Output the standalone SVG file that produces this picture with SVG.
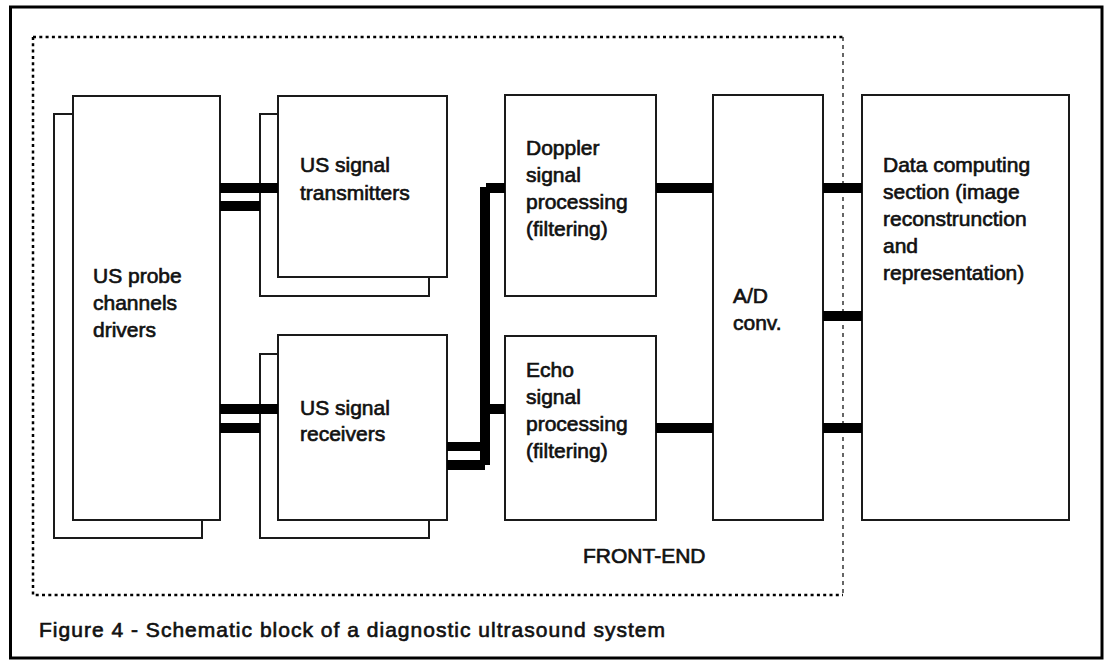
<svg xmlns="http://www.w3.org/2000/svg" width="1106" height="661" viewBox="0 0 1106 661">
  <style>
    .box { fill: #ffffff; stroke: #1a1a1a; stroke-width: 2; }
    .lbl { font-family: "Liberation Sans", Arial, sans-serif; font-size: 21px; fill: #111111; stroke: #111111; stroke-width: 0.65; }
    .bus { fill: #000000; }
  </style>

  <!-- page background and outer frame -->
  <rect x="0" y="0" width="1106" height="661" fill="#ffffff"/>
  <rect id="frame" x="10.5" y="7" width="1091.5" height="651" fill="none" stroke="#000000" stroke-width="3"/>

  <!-- front-end boundary (dotted) -->
  <g id="front-end-boundary" fill="none" stroke="#000000">
    <path d="M33 37 H843 M33 37 V595 H843" stroke-width="2.5" stroke-dasharray="3 3.3"/>
    <path d="M843 37 V595" stroke-width="1.2" stroke-dasharray="4 4"/>
  </g>

  <!-- probe channel drivers (stacked) -->
  <g id="probe-drivers">
    <rect class="box" x="54" y="114" width="148" height="424"/>
    <rect class="box" x="73" y="96" width="147" height="424"/>
    <text class="lbl" x="93" y="283">US probe</text>
    <text class="lbl" x="93" y="310">channels</text>
    <text class="lbl" x="93" y="337">drivers</text>
  </g>

  <!-- transmitters (stacked) -->
  <g id="transmitters">
    <rect class="box" x="260" y="114" width="169" height="182"/>
    <rect class="box" x="278" y="96" width="169" height="181"/>
    <text class="lbl" x="300" y="172">US signal</text>
    <text class="lbl" x="300" y="200">transmitters</text>
  </g>

  <!-- receivers (stacked) -->
  <g id="receivers">
    <rect class="box" x="260" y="354" width="169" height="184"/>
    <rect class="box" x="278" y="335" width="169" height="185"/>
    <text class="lbl" x="300" y="415">US signal</text>
    <text class="lbl" x="300" y="441">receivers</text>
  </g>

  <!-- doppler processing -->
  <g id="doppler">
    <rect class="box" x="505" y="95" width="151" height="201"/>
    <text class="lbl" x="526" y="155">Doppler</text>
    <text class="lbl" x="526" y="182">signal</text>
    <text class="lbl" x="526" y="209">processing</text>
    <text class="lbl" x="526" y="236">(filtering)</text>
  </g>

  <!-- echo processing -->
  <g id="echo">
    <rect class="box" x="505" y="336" width="151" height="184"/>
    <text class="lbl" x="526" y="377">Echo</text>
    <text class="lbl" x="526" y="404">signal</text>
    <text class="lbl" x="526" y="431">processing</text>
    <text class="lbl" x="526" y="458">(filtering)</text>
  </g>

  <!-- A/D converter -->
  <g id="adc">
    <rect class="box" x="713" y="95" width="110" height="425"/>
    <text class="lbl" x="733" y="303">A/D</text>
    <text class="lbl" x="733" y="330">conv.</text>
  </g>

  <!-- data computing section -->
  <g id="data-computing">
    <rect class="box" x="862" y="95" width="207" height="425"/>
    <text class="lbl" x="883" y="172">Data computing</text>
    <text class="lbl" x="883" y="199">section (image</text>
    <text class="lbl" x="883" y="226">reconstrunction</text>
    <text class="lbl" x="883" y="253">and</text>
    <text class="lbl" x="883" y="280">representation)</text>
  </g>

  <!-- heavy bus connectors -->
  <g id="connectors" class="bus">
    <!-- drivers to transmitters -->
    <rect x="220" y="183" width="58" height="10"/>
    <rect x="220" y="201" width="40" height="10"/>
    <!-- drivers to receivers -->
    <rect x="220" y="404" width="58" height="10"/>
    <rect x="220" y="423" width="40" height="10"/>
    <!-- receivers out to the processing chains -->
    <rect x="447" y="442" width="36" height="9"/>
    <rect x="447" y="460" width="38" height="10"/>
    <rect x="480" y="187" width="10" height="278"/>
    <rect x="486" y="183" width="19" height="10"/>
    <rect x="490" y="404" width="15" height="10"/>
    <!-- processing to A/D -->
    <rect x="656" y="183" width="57" height="10"/>
    <rect x="656" y="423" width="57" height="10"/>
    <!-- A/D to data computing -->
    <rect x="823" y="183" width="39" height="10"/>
    <rect x="823" y="311" width="39" height="10"/>
    <rect x="823" y="423" width="39" height="10"/>
  </g>

  <!-- labels outside the blocks -->
  <text id="front-end-label" class="lbl" x="583" y="563">FRONT-END</text>
  <text id="caption" class="lbl" x="39" y="637" textLength="626" lengthAdjust="spacing">Figure 4 - Schematic block of a diagnostic ultrasound system</text>
</svg>
